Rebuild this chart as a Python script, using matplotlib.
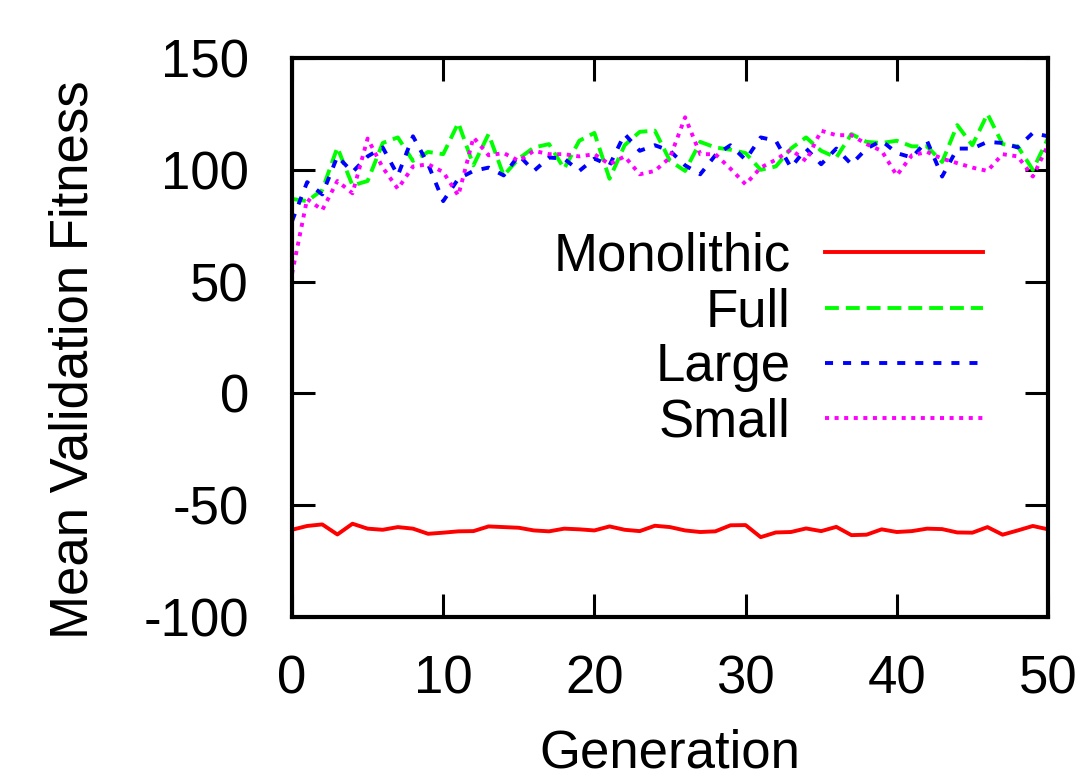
import numpy as np
import matplotlib
matplotlib.use("Agg")
import matplotlib.pyplot as plt

# -------------------------------------------------
# Data: mean validation fitness per generation
# -------------------------------------------------
generations = np.arange(0, 51)

monolithic = [
    -61.0, -59.3, -58.6, -63.1, -58.3, -60.5, -61.0, -59.8, -60.5, -62.8,
    -62.3, -61.7, -61.6, -59.5, -59.8, -60.1, -61.3, -61.7, -60.5, -60.8,
    -61.3, -59.5, -61.0, -61.6, -59.2, -59.8, -61.3, -62.0, -61.7, -59.0,
    -58.9, -64.3, -62.2, -62.0, -60.4, -61.6, -59.7, -63.4, -63.2, -60.8,
    -62.0, -61.6, -60.5, -60.7, -62.2, -62.3, -59.8, -63.2, -61.3, -59.3,
    -60.8,
]

full = [
    87.0, 86.0, 91.0, 110.0, 93.0, 95.0, 112.0, 114.5, 104.0, 108.0,
    107.0, 121.0, 102.0, 116.0, 97.5, 105.0, 110.0, 111.5, 100.5, 113.0,
    116.5, 96.0, 111.0, 117.0, 117.5, 104.0, 99.5, 112.5, 110.0, 109.0,
    107.5, 100.0, 101.5, 109.5, 114.5, 108.5, 105.5, 116.0, 112.5, 112.0,
    113.0, 110.5, 110.5, 103.5, 120.0, 111.0, 125.0, 111.5, 110.5, 100.0,
    114.0,
]

large = [
    77.0, 94.5, 89.0, 106.0, 99.0, 106.0, 110.0, 97.5, 115.0, 102.5,
    86.0, 96.0, 99.5, 101.0, 97.5, 106.5, 99.5, 105.5, 105.0, 99.5,
    105.0, 102.0, 116.0, 108.5, 111.0, 108.5, 102.0, 98.0, 106.5, 111.0,
    104.5, 114.5, 113.0, 101.0, 109.5, 102.5, 109.5, 102.5, 109.5, 113.0,
    107.5, 105.5, 113.0, 97.0, 109.5, 109.5, 112.5, 112.0, 110.0, 116.5,
    115.0,
]

small = [
    53.5, 87.0, 82.0, 95.0, 89.5, 114.0, 101.0, 91.5, 101.5, 102.5,
    99.0, 88.5, 114.5, 106.5, 107.5, 104.0, 108.5, 107.0, 107.0, 106.0,
    107.0, 102.5, 106.0, 98.0, 99.5, 105.5, 123.5, 107.0, 107.0, 100.5,
    93.5, 101.0, 104.5, 109.0, 104.0, 117.5, 115.5, 115.5, 111.5, 108.5,
    97.5, 106.5, 108.0, 105.0, 103.0, 101.0, 99.5, 107.0, 106.0, 97.0,
    111.0,
]

x_ticks = [0, 10, 20, 30, 40, 50]
y_ticks = [-100, -50, 0, 50, 100, 150]

# -------------------------------------------------
# Style
# -------------------------------------------------
plt.rcParams['font.family'] = ['Liberation Sans', 'DejaVu Sans']
plt.rcParams['font.size'] = 38
plt.rcParams['axes.unicode_minus'] = False
plt.rcParams['lines.scale_dashes'] = False

fig = plt.figure(figsize=(10.88, 7.79), dpi=100)
ax = fig.add_axes([0.2684, 0.208, 0.6948, 0.7175])

lw = 2.8
ax.plot(generations, monolithic, color='#ff0000', lw=lw, label='Monolithic')
ax.plot(generations, full, color='#00ff00', lw=lw, dashes=(10.0, 5.0), label='Full')
ax.plot(generations, large, color='#0000ff', lw=lw, dashes=(5.8, 7.2), label='Large')
ax.plot(generations, small, color='#ff00ff', lw=lw, dashes=(2.9, 4.0), label='Small')

ax.set_xlim(0, 50)
ax.set_ylim(-100, 150)
ax.set_xticks(x_ticks)
ax.set_yticks(y_ticks)

for side in ax.spines.values():
    side.set_linewidth(3.0)

ax.tick_params(axis='both', which='major', direction='in', length=16.5, width=2.2,
               top=True, right=True)
ax.tick_params(axis='x', pad=27)
ax.tick_params(axis='y', pad=31)

ax.set_xlabel('Generation')
ax.set_ylabel('Mean Validation Fitness')
ax.xaxis.set_label_coords(0.5, -0.199)
ax.yaxis.set_label_coords(-0.256, 0.46)

# -------------------------------------------------
# Legend: labels on the left, samples lined up on the right
# -------------------------------------------------
leg = ax.legend(loc='upper right', bbox_to_anchor=(0.914, 0.689), frameon=False,
                markerfirst=False, handlelength=3.0, handletextpad=0.65,
                labelspacing=0.1, borderpad=0, borderaxespad=0)
for column in leg._legend_box.get_children()[1].get_children():
    column.align = 'right'

fig.savefig('out.png', dpi=100)
